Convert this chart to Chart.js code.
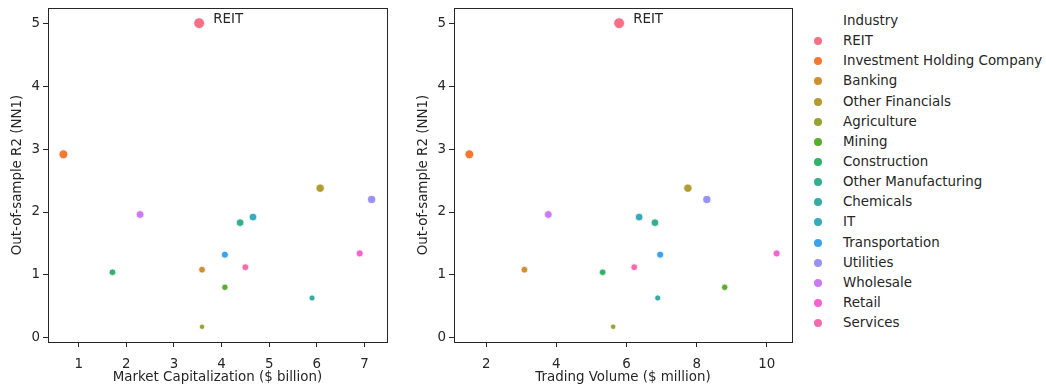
<!DOCTYPE html>
<html>
<head>
<meta charset="utf-8">
<script src="https://cdn.jsdelivr.net/npm/chart.js@4"></script>
<style>
  body { margin: 0; background: #fff; font-family: "DejaVu Sans", sans-serif; }
  #wrap { position: relative; width: 1046px; height: 387px; }
  canvas { position: absolute; top: 0; }
  #legend { position: absolute; left: 806px; top: 11px; font-size: 13.4px; color: #262626; }
  #legend .row { height: 20.15px; line-height: 20.15px; position: relative; padding-left: 37px; white-space: nowrap; }
  #legend .dot { position: absolute; left: 8px; top: 6px; width: 8px; height: 8px; border-radius: 50%; }
</style>
</head>
<body>
<div id="wrap">
  <canvas id="chartCap" width="400" height="387" style="left:0"></canvas>
  <canvas id="chartVol" width="400" height="387" style="left:406px"></canvas>
  <div id="legend"></div>
</div>
<script>
const industries = ["REIT", "Investment Holding Company", "Banking", "Other Financials", "Agriculture",
  "Mining", "Construction", "Other Manufacturing", "Chemicals", "IT", "Transportation",
  "Utilities", "Wholesale", "Retail", "Services"];
const marketCap = [3.53, 0.68, 3.59, 6.07, 3.59, 4.07, 1.71, 4.39, 5.90, 4.66, 4.07, 7.15, 2.29, 6.90, 4.50];
const tradingVolume = [5.79, 1.52, 3.09, 7.75, 5.62, 8.80, 5.32, 6.81, 6.89, 6.36, 6.96, 8.29, 3.77, 10.28, 6.22];
const r2 = [5.01, 2.92, 1.08, 2.38, 0.17, 0.80, 1.04, 1.83, 0.63, 1.92, 1.32, 2.20, 1.96, 1.34, 1.12];
const yTicks = [0, 1, 2, 3, 4, 5];
const capTicks = [1, 2, 3, 4, 5, 6, 7];
const volTicks = [2, 4, 6, 8, 10];

const palette = ["#f67088", "#f37932", "#ce8f31", "#b29b31", "#96a331", "#58ad31", "#32b16c",
  "#34ae91", "#35aca4", "#37abbc", "#3ba3ec", "#9a91f4", "#cc79f4", "#f563d3", "#f66bad"];

const font = { family: "'DejaVu Sans', sans-serif", size: 13.4 };
const ink = "#262626";

const rMin = Math.min(...r2), rMax = Math.max(...r2);
function radiusFor(v) {
  const t = (v - rMin) / (rMax - rMin);
  return Math.sqrt(2.7 * 2.7 + t * (5.4 * 5.4 - 2.7 * 2.7));
}

function padRange(vals) {
  const lo = Math.min(...vals), hi = Math.max(...vals), m = (hi - lo) * 0.05;
  return [lo - m, hi + m];
}

const frame = {
  id: "frame",
  afterDraw(chart) {
    const { ctx, chartArea: a } = chart;
    ctx.save();
    ctx.strokeStyle = ink;
    ctx.lineWidth = 1;
    ctx.strokeRect(Math.round(a.left) + 0.5, Math.round(a.top) + 0.5,
      Math.round(a.right - a.left), Math.round(a.bottom - a.top));
    // REIT label
    const m = chart.getDatasetMeta(0).data[0];
    ctx.fillStyle = ink;
    ctx.font = "13.4px 'DejaVu Sans', sans-serif";
    ctx.textBaseline = "middle";
    ctx.fillText(industries[0], m.x + 14, m.y - 4);
    ctx.restore();
  }
};

function makeChart(id, xVals, xTicks, xTitle, rightPad) {
  const [xmin, xmax] = padRange(xVals);
  const [ymin, ymax] = padRange(r2);
  const datasets = industries.map((name, i) => ({
    label: name,
    data: [{ x: xVals[i], y: r2[i] }],
    backgroundColor: palette[i],
    borderColor: "#ffffff",
    borderWidth: 0.8,
    pointRadius: radiusFor(r2[i]),
    pointHoverRadius: radiusFor(r2[i])
  }));
  const axis = (ticks, title, min, max, isX) => ({
    type: "linear",
    min, max,
    afterBuildTicks: s => { s.ticks = ticks.map(v => ({ value: v })); },
    afterFit: s => {
      if (isX) { s.height = 45; s.paddingLeft = 0; s.paddingRight = 0; }
      else { s.width = 48; s.paddingTop = 0; s.paddingBottom = 0; }
    },
    grid: { drawOnChartArea: false, drawTicks: true, tickLength: 5, color: ink, tickWidth: 1 },
    border: { display: false },
    ticks: { color: ink, font, padding: isX ? 9 : 3, maxRotation: 0, autoSkip: false },
    title: { display: true, text: title, color: ink, font, padding: isX ? { top: 2, bottom: 1 } : { top: 9, bottom: 8 } }
  });
  return new Chart(document.getElementById(id), {
    type: "scatter",
    data: { datasets },
    options: {
      responsive: false,
      animation: false,
      layout: { padding: { left: 0, right: rightPad, top: 8, bottom: 0 } },
      plugins: { legend: { display: false }, tooltip: { enabled: false } },
      scales: {
        x: axis(xTicks, xTitle, xmin, xmax, true),
        y: axis(yTicks, "Out-of-sample R2 (NN1)", ymin, ymax, false)
      }
    },
    plugins: [frame]
  });
}

makeChart("chartCap", marketCap, capTicks, "Market Capitalization ($ billion)", 13);
makeChart("chartVol", tradingVolume, volTicks, "Trading Volume ($ million)", 14);

const legend = document.getElementById("legend");
legend.innerHTML = '<div class="row">Industry</div>' +
  industries.map((n, i) => '<div class="row"><span class="dot" style="background:' + palette[i] + '"></span>' + n + '</div>').join("");
</script>
</body>
</html>
